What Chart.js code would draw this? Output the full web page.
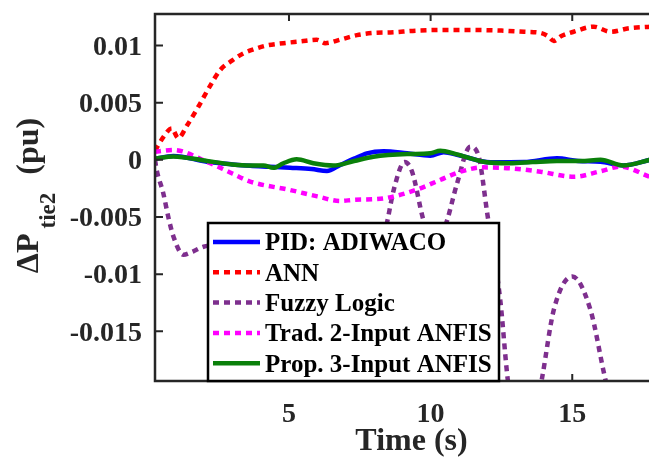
<!DOCTYPE html>
<html>
<head>
<meta charset="utf-8">
<script src="https://cdn.jsdelivr.net/npm/chart.js@4.4.0/dist/chart.umd.min.js"></script>
<style>
html, body { margin: 0; padding: 0; background: #fff; overflow: hidden; }
</style>
</head>
<body>
<canvas id="c" width="670" height="468"></canvas>
<script>
// ---- data ----
var seriesNames = ['PID: ADIWACO', 'ANN', 'Fuzzy Logic', 'Trad. 2-Input ANFIS', 'Prop. 3-Input ANFIS'];

var tPid = [0.27, 0.92, 2.1, 3.0, 3.63, 4.3, 5.04, 5.8, 6.34, 6.81, 7.3, 7.75, 8.34, 9.17, 9.99, 10.46, 11.0, 12.11, 13.3, 14.46, 15.2, 16.0, 16.8, 17.75];
var pid  = [0.0001, 0.00033, -0.00017, -0.0004, -0.00052, -0.0006, -0.00069, -0.0008, -0.00098, -0.00045, 0.0001, 0.00057, 0.00075, 0.00057, 0.00036, 0.00066, 0.0004, -0.00022, -0.0002, 0.00013, -0.0001, -0.00017, -0.0005, 0];

var tAnn = [0.27, 0.57, 0.86, 1.09, 1.4, 1.8, 2.2, 2.57, 3.0, 3.39, 3.8, 4.22, 4.8, 5.4, 5.98, 6.28, 6.8, 7.4, 8.0, 8.57, 9.5, 10.34, 11.52, 12.5, 13.3, 13.88, 14.15, 14.35, 14.6, 15.05, 15.76, 16.35, 17.0, 17.75];
var ann  = [0.0008, 0.002, 0.00275, 0.0019, 0.003, 0.00464, 0.0064, 0.00785, 0.0087, 0.0093, 0.0097, 0.01, 0.0102, 0.01035, 0.0105, 0.0102, 0.0105, 0.0109, 0.0111, 0.01114, 0.0113, 0.01135, 0.01135, 0.0113, 0.0112, 0.0111, 0.0108, 0.0104, 0.0108, 0.0112, 0.01164, 0.0112, 0.0115, 0.01164];

var tFuzzy = [0.27, 0.33, 0.56, 0.74, 0.92, 1.27, 1.62, 1.98, 2.4, 3.0, 3.6, 4.2, 4.8, 5.6, 6.5, 7.3, 7.9, 8.46, 8.7, 9.08, 9.34, 9.75, 10.17, 10.58, 10.93, 11.4, 11.7, 12.0, 12.46, 12.7, 12.95, 13.4, 13.94, 14.35, 15.0, 15.64, 16.17, 16.8, 17.75];
var fuzzy  = [0, -0.0009, -0.0029, -0.005, -0.0067, -0.0083, -0.008, -0.0076, -0.0075, -0.009, -0.0135, -0.0193, -0.024, -0.027, -0.026, -0.0195, -0.0115, -0.0055, -0.0026, -0.0002, -0.001, -0.0053, -0.0078, -0.0053, -0.0021, 0.00115, 0.00027, -0.0047, -0.0123, -0.0187, -0.0235, -0.026, -0.019, -0.0131, -0.0102, -0.0131, -0.0192, -0.025, -0.028];

var tTrad = [0.27, 0.92, 2.1, 3.0, 3.63, 5.04, 6.0, 6.81, 7.28, 8.34, 9.52, 10.3, 11.05, 11.87, 12.8, 13.88, 15.05, 16.0, 16.7, 17.75];
var trad  = [0.0007, 0.00086, -0.00017, -0.0012, -0.0019, -0.00264, -0.0032, -0.0036, -0.0035, -0.00337, -0.0026, -0.0018, -0.00104, -0.00066, -0.00074, -0.00104, -0.00148, -0.001, -0.0006, -0.0015];

var tProp = [0.27, 0.92, 2.1, 3.0, 3.63, 4.1, 4.45, 4.8, 5.27, 5.86, 6.57, 7.3, 7.98, 9.17, 9.99, 10.34, 10.9, 11.87, 12.8, 13.6, 14.46, 15.3, 16.0, 16.8, 17.75];
var prop  = [0.0001, 0.0003, -0.0001, -0.0004, -0.0005, -0.0005, -0.0007, -0.0003, 0.00004, -0.0003, -0.0005, -0.0001, 0.00027, 0.0005, 0.00057, 0.0008, 0.0005, -0.00017, -0.0003, -0.0002, -0.0001, -0.0001, 0, -0.0005, 0];

var xTicks = [5, 10, 15];
var xTickLabels = ['5', '10', '15'];
var yTicks = [-0.015, -0.01, -0.005, 0, 0.005, 0.01];
var yTickLabels = ['-0.015', '-0.01', '-0.005', '0', '0.005', '0.01'];

var xTitle = 'Time (s)';
var yTitleMain = '\u0394P', yTitleSub = 'tie2', yTitleUnit = '(pu)';

// ---- styling ----
var serif = '"Liberation Serif", "Times New Roman", serif';
var axisColor = '#262626';
var colors = ['#0000ff', '#ff0000', '#7e2f8e', '#ff00ff', '#0a800a'];
var dashes = [[], [6, 5], [6, 5], [6, 5], []];

function pts(t, v) {
    var out = [];
    for (var i = 0; i < t.length; i++) out.push({x: t[i], y: v[i]});
    return out;
}

var allSeries = [pts(tPid, pid), pts(tAnn, ann), pts(tFuzzy, fuzzy), pts(tTrad, trad), pts(tProp, prop)];

var datasets = allSeries.map(function (d, i) {
    return {
        label: seriesNames[i],
        data: d,
        borderColor: colors[i],
        borderWidth: 4.5,
        borderDash: dashes[i],
        borderCapStyle: 'butt',
        pointRadius: 0,
        fill: false,
        cubicInterpolationMode: 'monotone',
        order: 5 - i   // later series drawn on top, like MATLAB
    };
});

var framePlugin = {
    id: 'frame',
    afterDraw: function (chart) {
        var ctx = chart.ctx, ca = chart.chartArea;
        var xs = chart.scales.x, ys = chart.scales.y;
        ctx.save();

        // box (right side is off the picture)
        ctx.strokeStyle = axisColor;
        ctx.lineWidth = 2.5;
        ctx.beginPath();
        ctx.moveTo(ca.right, ca.top);
        ctx.lineTo(ca.left, ca.top);
        ctx.lineTo(ca.left, ca.bottom);
        ctx.lineTo(ca.right, ca.bottom);
        ctx.stroke();

        // inward ticks
        ctx.lineWidth = 2;
        ctx.beginPath();
        xTicks.forEach(function (v) {
            var px = xs.getPixelForValue(v);
            ctx.moveTo(px, ca.top); ctx.lineTo(px, ca.top + 7);
            ctx.moveTo(px, ca.bottom); ctx.lineTo(px, ca.bottom - 7);
        });
        yTicks.forEach(function (v) {
            var py = ys.getPixelForValue(v);
            ctx.moveTo(ca.left, py); ctx.lineTo(ca.left + 8, py);
        });
        ctx.stroke();

        // legend box inside the axes
        var lx = ca.left + 53, lw = 291, lh = 158;
        var ly = ca.bottom - lh;
        ctx.fillStyle = '#fff';
        ctx.fillRect(lx, ly, lw, lh);
        ctx.strokeStyle = '#000';
        ctx.lineWidth = 2.5;
        ctx.strokeRect(lx, ly, lw, lh);
        ctx.font = 'bold 25px ' + serif;
        ctx.textBaseline = 'middle';
        ctx.textAlign = 'left';
        seriesNames.forEach(function (name, i) {
            var y = ly + 19 + i * 30.3;
            ctx.strokeStyle = colors[i];
            ctx.lineWidth = 4.5;
            ctx.lineCap = 'butt';
            ctx.setLineDash(dashes[i]);
            ctx.beginPath();
            ctx.moveTo(lx + 5, y);
            ctx.lineTo(lx + 52, y);
            ctx.stroke();
            ctx.setLineDash([]);
            ctx.fillStyle = '#000';
            ctx.fillText(name, lx + 57, y + 2);
        });

        // y axis title with subscript
        var big = 'bold 32px ' + serif, small = 'bold 23px ' + serif;
        ctx.font = big;
        var w1 = ctx.measureText(yTitleMain).width;
        var w3 = ctx.measureText(yTitleUnit).width;
        ctx.font = small;
        var w2 = ctx.measureText(yTitleSub).width;
        var gap1 = 5, gap2 = 18;
        var total = w1 + gap1 + w2 + gap2 + w3;
        var cy = (ca.top + ca.bottom) / 2 - 2;
        ctx.fillStyle = axisColor;
        ctx.textBaseline = 'alphabetic';
        ctx.translate(38, cy + total / 2);
        ctx.rotate(-Math.PI / 2);
        ctx.font = big;
        ctx.fillText(yTitleMain, 0, 0);
        ctx.font = small;
        ctx.fillText(yTitleSub, w1 + gap1, 17);
        ctx.font = big;
        ctx.fillText(yTitleUnit, w1 + gap1 + w2 + gap2, 0);

        ctx.restore();
    }
};

new Chart(document.getElementById('c'), {
    type: 'line',
    data: { datasets: datasets },
    options: {
        responsive: false,
        animation: false,
        layout: { padding: { top: 14, right: 2, left: 0, bottom: 0 } },
        plugins: {
            legend: { display: false },
            tooltip: { enabled: false }
        },
        scales: {
            x: {
                type: 'linear',
                min: 0.27,
                max: 18.38,
                grid: { display: false, drawTicks: false },
                border: { display: false },
                afterBuildTicks: function (s) { s.ticks = xTicks.map(function (v) { return {value: v}; }); },
                afterFit: function (s) { s.height = 87; s.paddingLeft = 0; s.paddingRight = 0; },
                ticks: {
                    padding: 17,
                    color: axisColor,
                    font: { family: serif, size: 28, weight: 'bold' },
                    maxRotation: 0,
                    callback: function (v, i) { return xTickLabels[i]; }
                },
                title: {
                    display: true,
                    text: xTitle,
                    color: axisColor,
                    font: { family: serif, size: 32, weight: 'bold' },
                    padding: { top: 0, bottom: 7 }
                }
            },
            y: {
                min: -0.01934,
                max: 0.01275,
                grid: { display: false, drawTicks: false },
                border: { display: false },
                afterBuildTicks: function (s) { s.ticks = yTicks.map(function (v) { return {value: v}; }); },
                afterFit: function (s) { s.width = 155; s.paddingTop = 0; s.paddingBottom = 0; },
                ticks: {
                    padding: 13,
                    labelOffset: 2,
                    color: axisColor,
                    font: { family: serif, size: 28, weight: 'bold' },
                    callback: function (v, i) { return yTickLabels[i]; }
                }
            }
        }
    },
    plugins: [framePlugin]
});
</script>
</body>
</html>
